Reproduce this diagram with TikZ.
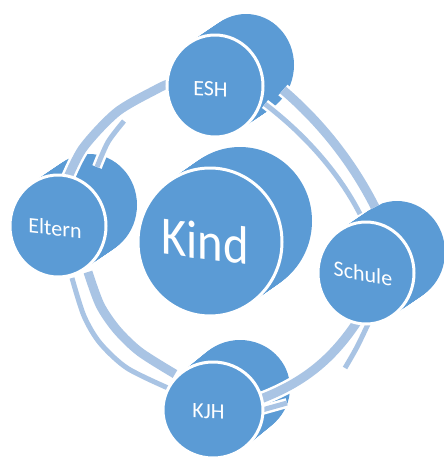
\documentclass[tikz,border=0pt]{standalone}
\usepackage{fontspec}
\setmainfont{Carlito}
\newfontfamily\kindfont[FakeStretch=0.9]{Carlito}
\usetikzlibrary{calc,shapes.geometric}
\definecolor{disc}{RGB}{91,155,213}
\definecolor{bandc}{RGB}{169,196,228}
\begin{document}
\begin{tikzpicture}[x=1pt,y=-1pt,
  face/.style={ellipse, fill=disc, draw=white, line width=3pt, inner sep=0pt},
  lbl/.style={text=white, inner sep=0pt, font=\fontsize{22}{22}\selectfont},
  wideband/.style={draw=bandc, line width=9pt, preaction={draw=white, line width=14pt}},
  thinband/.style={draw=bandc, line width=5pt, preaction={draw=white, line width=10pt}}]
\useasboundingbox (0,0) rectangle (444,459);
\clip (0,0) rectangle (444,459);
% centres of front faces and back faces
\coordinate (kindF) at (210,242);   \coordinate (kindB) at (240,221);
\coordinate (eshF) at (215,86);     \coordinate (eshB) at (246,65);
\coordinate (elternF) at (58,226);  \coordinate (elternB) at (89,205);
\coordinate (schuleF) at (366,273); \coordinate (schuleB) at (397,252);
\coordinate (kjhF) at (213,410);    \coordinate (kjhB) at (240,388);
% extruded bodies
\foreach \f/\b/\rx/\ry in {kindF/kindB/72pt/74pt, eshF/eshB/48pt/51pt, elternF/elternB/48pt/51pt, schuleF/schuleB/48pt/51pt, kjhF/kjhB/50pt/48pt}{
  \foreach \t in {0,...,20}{
    \fill[disc] ($(\f)!\t/20!(\b)$) ellipse [x radius=\rx, y radius=\ry];
  }
}
% ring bands: back (thin) parts
\draw[thinband] plot[smooth] coordinates {(124,121) (108,142) (97,167)};
\draw[thinband] (265,104) .. controls (303,133) and (338,171) .. (360,214);
\draw[thinband] plot[smooth] coordinates {(72,278) (84,316) (100,343) (127,368) (168,388)};
\draw[thinband] plot[smooth] coordinates {(369,322) (357,347) (345,368)};
\draw[thinband] (262,410) -- (287,403);
% ring bands: front (wide) parts
\draw[wideband] plot[smooth] coordinates {(168,84) (157,89) (117,112) (83,148) (66,182)};
\draw[wideband] (283,90) .. controls (321,122.5) and (352.5,162.5) .. (375,207);
\draw[wideband] plot[smooth] coordinates {(88,272) (100,305) (117,330) (140,352) (175,374)};
\draw[wideband] (357,322) .. controls (331,361) and (302,383.5) .. (258,400);
% front faces
\node[face, minimum width=96pt, minimum height=102pt] (esh) at (eshF) {};
\node[face, minimum width=96pt, minimum height=102pt] (eltern) at (elternF) {};
\node[face, minimum width=96pt, minimum height=102pt] (schule) at (schuleF) {};
\node[face, minimum width=100pt, minimum height=96pt] (kjh) at (kjhF) {};
\node[face, minimum width=144pt, minimum height=148pt] (kind) at (kindF) {};
% labels (perspective: baselines slope, stems stay upright)
\node[lbl, yslant=-0.05] (esh-t) at (210.5,89) {ESH};
\node[lbl, yslant=-0.11] (eltern-t) at (55,228) {Eltern};
\node[lbl, yslant=-0.18] (schule-t) at (363,273.5) {Schule};
\node[lbl, yslant=-0.05] (kjh-t) at (208.5,411.5) {KJH};
\node[lbl, yslant=-0.13, font=\kindfont\fontsize{54}{54}\selectfont] (kind-t) at (205,241) {Kind};
\end{tikzpicture}
\end{document}
